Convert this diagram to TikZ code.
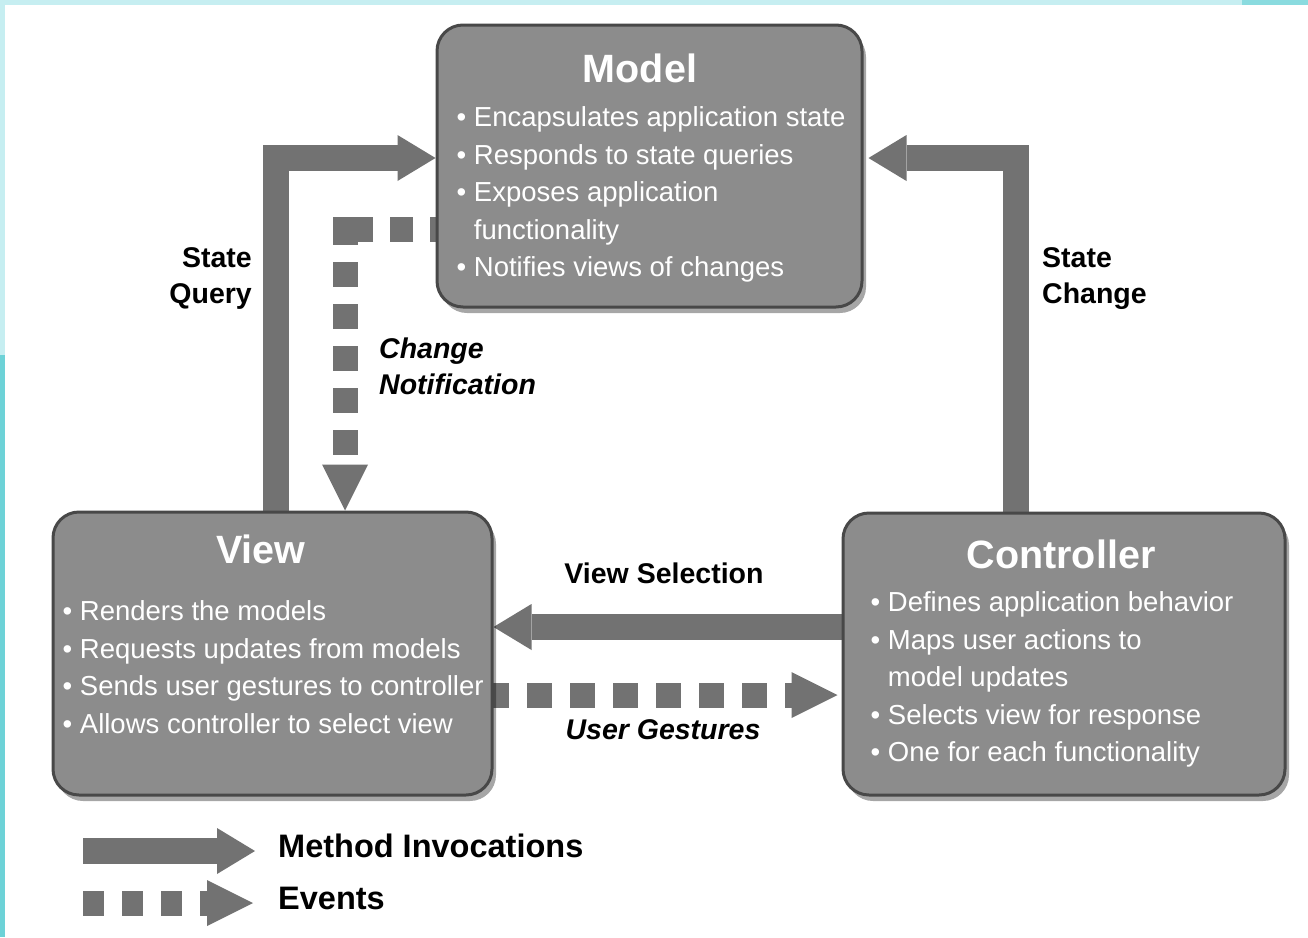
\documentclass[tikz,border=0pt]{standalone}
\usepackage{fontspec}
\setmainfont{Liberation Sans}
\usetikzlibrary{arrows.meta,positioning,shadows,backgrounds,calc}

\definecolor{boxgray}{HTML}{8C8C8C}
\definecolor{boxedge}{HTML}{484848}
\definecolor{arrowgray}{HTML}{727272}
\definecolor{cyanlight}{HTML}{C6EEF1}
\definecolor{cyandark}{HTML}{6DD2D7}

\newcommand{\bul}{\textbullet~}
\newcommand{\bulgap}{\hphantom{\textbullet~}}

\tikzset{
  box/.style={rectangle, rounded corners=26pt, fill=boxgray, draw=boxedge, line width=3pt,
    drop shadow={shadow xshift=4pt, shadow yshift=-6pt, opacity=.35, fill=black}},
  boxtitle/.style={text=white, font=\fontsize{39.5}{44}\selectfont\bfseries, inner sep=0pt},
  items/.style={text=white, font=\fontsize{27.5}{37.5}\selectfont, align=left, inner sep=0pt},
  lbl/.style={font=\fontsize{28.5}{36}\selectfont\bfseries, inner sep=0pt},
  lbli/.style={lbl, font=\fontsize{28.5}{36}\selectfont\bfseries\itshape},
  legend/.style={font=\fontsize{32.5}{36}\selectfont\bfseries, inner sep=0pt},
  mi/.style={draw=arrowgray, line width=26pt, line join=miter,
    -{Triangle[length=38pt,width=46pt,line width=0pt]}},
  ev/.style={draw=arrowgray, line width=25pt,
    -{Triangle[length=46pt,width=46pt,line width=0pt]}}
}

\begin{document}
\begin{tikzpicture}[x=1pt,y=-1pt]
  \useasboundingbox (0,0) rectangle (1308,937);

  % the three parts
  \node[box, minimum width=425pt, minimum height=282pt] (model) at (649.5,166) {};
  \node[box, minimum width=439pt, minimum height=283pt] (view) at (272.5,653.5) {};
  \node[box, minimum width=442pt, minimum height=282pt] (ctrl) at (1064,654) {};

  \node[boxtitle, anchor=base] (modeltitle) at ([xshift=-9.5pt,yshift=-59pt]model.north) {Model};
  \node[boxtitle, anchor=base] (viewtitle) at ([xshift=-11.5pt,yshift=-53pt]view.north) {View};
  \node[boxtitle, anchor=base] (ctrltitle) at ([xshift=-3pt,yshift=-57pt]ctrl.north) {Controller};

  \node[items, anchor=north west] (modelitems) at ([xshift=21pt,yshift=-83pt]model.north west)
    {\bul Encapsulates application state\\ \bul Responds to state queries\\
     \bul Exposes application\\ \bulgap functionality\\ \bul Notifies views of changes};
  \node[items, anchor=north west] (viewitems) at ([xshift=11pt,yshift=-90pt]view.north west)
    {\bul Renders the models\\ \bul Requests updates from models\\
     \bul Sends user gestures to controller\\ \bul Allows controller to select view};
  \node[items, anchor=north west] (ctrlitems) at ([xshift=29pt,yshift=-80pt]ctrl.north west)
    {\bul Defines application behavior\\ \bul Maps user actions to\\ \bulgap model updates\\
     \bul Selects view for response\\ \bul One for each functionality};

  % labels
  \node[lbl, align=right, anchor=north east] (sqlbl) at (252,247) {State\\Query};
  \node[lbl, align=left, anchor=north west] (sclbl) at (1042,247) {State\\Change};
  \node[lbli, align=left, anchor=north west] (cnlbl) at (379,338) {Change\\Notification};
  \node[lbl, anchor=north] (vslbl) at (664,563) {View Selection};
  \node[lbli, anchor=north] (uglbl) at (663,719) {User Gestures};

  % legend
  \node[legend, anchor=west] (mitxt) at (278,846) {Method Invocations};
  \node[legend, anchor=west] (evtxt) at (278,898) {Events};
  \coordinate (mi0) at (83,851);
  \coordinate (ev0) at (83,903);

  \begin{scope}[on background layer]
    % frame
    \fill[white] (0,0) rectangle (1308,937);
    \fill[cyanlight] (0,0) rectangle (1308,5);
    \fill[cyandark!80] (1242,0) rectangle (1308,5);
    \fill[cyanlight] (0,0) rectangle (5,355);
    \fill[cyandark] (0,355) rectangle (5,937);

    \coordinate (sq) at (276,158);
    \coordinate (sc) at (1016,158);
    \coordinate (vs) at (668,627);
    \coordinate (cn) at (345,229);
    \coordinate (ug) at (668,695);
    \draw[mi] (sq |- view.north) |- (model.west |- sq);
    \draw[mi, shorten >=5pt] (sc |- ctrl.north) |- (model.east |- sc);
    \draw[mi] (ctrl.west |- vs) -- (view.east |- vs);
    \draw[ev, dash pattern=on 23.5pt off 17pt on 23pt off 17pt on 44pt off 17pt on 25pt off 17pt
      on 25pt off 17pt on 25pt off 17pt on 25pt off 17pt on 25pt off 17pt]
      ($(model.west |- cn)+(18,0)$) -| (cn |- view.north);
    \draw[ev, dash pattern=on 25pt off 18pt, dash phase=39pt, shorten >=4pt]
      ($(view.east |- ug)+(-13.5,0)$) -- (ctrl.west |- ug);
    \draw[mi, shorten >=23pt] (mi0) -- (mi0 -| mitxt.west);
    \draw[ev, dash pattern=on 21pt off 18pt, shorten >=25pt] (ev0) -- (ev0 -| evtxt.west);
  \end{scope}
\end{tikzpicture}
\end{document}
